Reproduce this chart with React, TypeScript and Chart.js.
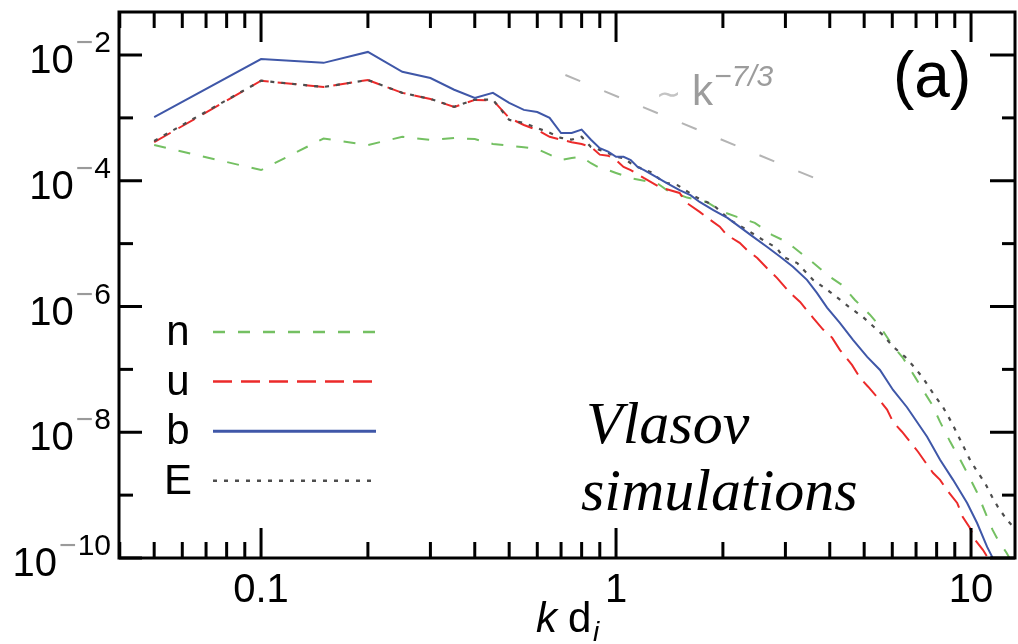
import React, { useEffect, useRef } from "react";
import { Chart, registerables } from "chart.js";

Chart.register(...registerables);

// ---- data (k d_i, spectral power) ----
const nK = [0.05, 0.1, 0.15, 0.2, 0.25, 0.3, 0.35, 0.4, 0.45, 0.5, 0.55, 0.6, 0.65, 0.7, 0.75, 0.8, 0.85, 0.9, 0.95, 1.0, 1.1, 1.2, 1.3, 1.39, 1.585, 1.8, 2.0, 2.19, 2.46, 2.75, 2.94, 3.15, 3.57, 4.01, 4.33, 4.71, 5.19, 5.54, 5.99, 6.43, 6.95, 7.32, 7.77, 8.18, 8.73, 9.32, 9.75, 10.4, 11.1, 11.5, 11.9, 12.6, 13.5];
const nVals = [3.7e-4, 1.48e-4, 4.7e-4, 3.7e-4, 5.0e-4, 4.45e-4, 4.8e-4, 4.6e-4, 3.85e-4, 3.6e-4, 3.4e-4, 3.2e-4, 2.6e-4, 2.15e-4, 2.3e-4, 2.4e-4, 1.9e-4, 1.6e-4, 1.48e-4, 1.33e-4, 1.1e-4, 1.0e-4, 9.3e-5, 7.1e-5, 5.4e-5, 4.6e-5, 3.2e-5, 2.66e-5, 2.14e-5, 1.38e-5, 1.15e-5, 8.9e-6, 5.1e-6, 2.95e-6, 2.2e-6, 1.27e-6, 7.4e-7, 4.8e-7, 2.47e-7, 1.52e-7, 7.6e-8, 4.7e-8, 2.74e-8, 1.46e-8, 7.1e-9, 3.66e-9, 2.27e-9, 1.1e-9, 4.5e-10, 2.8e-10, 1.95e-10, 1.2e-10, 6e-11];

const uK = [0.05, 0.1, 0.15, 0.2, 0.25, 0.3, 0.35, 0.4, 0.45, 0.5, 0.55, 0.6, 0.65, 0.7, 0.75, 0.8, 0.85, 0.9, 0.95, 1.0, 1.05, 1.1, 1.2, 1.33, 1.51, 1.585, 1.72, 1.84, 1.96, 2.05, 2.23, 2.34, 2.5, 2.66, 2.84, 3.09, 3.3, 3.59, 3.83, 4.06, 4.27, 4.62, 4.87, 5.13, 5.47, 5.8, 6.03, 6.39, 6.73, 7.09, 7.42, 7.81, 8.18, 8.55, 9.14, 9.48, 9.93, 10.26, 10.8, 11.1, 11.6];
const uVals = [4.1e-4, 3.9e-3, 3.1e-3, 4.0e-3, 2.5e-3, 2.0e-3, 1.49e-3, 1.93e-3, 1.9e-3, 1.0e-3, 7.7e-4, 6.4e-4, 5.0e-4, 4.5e-4, 4.1e-4, 3.85e-4, 3.45e-4, 2.6e-4, 2.5e-4, 2.14e-4, 1.66e-4, 1.48e-4, 1.1e-4, 7.9e-5, 6.4e-5, 4.4e-5, 3.2e-5, 2.4e-5, 1.86e-5, 1.38e-5, 1.03e-5, 7.9e-6, 5.9e-6, 4.1e-6, 2.85e-6, 1.65e-6, 1.18e-6, 6.6e-7, 4.3e-7, 3.2e-7, 2.04e-7, 1.18e-7, 7.3e-8, 5.3e-8, 3.5e-8, 2.29e-8, 1.46e-8, 1.02e-8, 7.1e-9, 4.9e-9, 3.4e-9, 2.27e-9, 1.75e-9, 1.21e-9, 7.5e-10, 4.5e-10, 3.0e-10, 1.95e-10, 1.35e-10, 1.05e-10, 5e-11];

const bK = [0.05, 0.1, 0.15, 0.2, 0.25, 0.3, 0.35, 0.4, 0.45, 0.5, 0.55, 0.6, 0.65, 0.7, 0.75, 0.8, 0.85, 0.9, 0.95, 1.0, 1.05, 1.1, 1.15, 1.2, 1.3, 1.39, 1.51, 1.62, 1.72, 1.88, 2.06, 2.23, 2.43, 2.66, 2.9, 3.15, 3.45, 3.68, 3.93, 4.27, 4.65, 5.1, 5.54, 6.03, 6.6, 7.52, 8.18, 8.9, 9.75, 10.4, 11.1, 11.46, 12.2];
const bVals = [1.03e-3, 8.6e-3, 7.5e-3, 1.12e-2, 5.4e-3, 4.3e-3, 2.8e-3, 2.07e-3, 2.5e-3, 1.73e-3, 1.34e-3, 1.24e-3, 1.0e-3, 5.75e-4, 5.75e-4, 6.5e-4, 4.5e-4, 3.3e-4, 2.9e-4, 2.4e-4, 2.4e-4, 2.14e-4, 1.66e-4, 1.48e-4, 1.14e-4, 9.2e-5, 7.1e-5, 5.9e-5, 4.6e-5, 3.4e-5, 2.57e-5, 1.85e-5, 1.29e-5, 8.9e-6, 6.2e-6, 4.3e-6, 2.65e-6, 1.65e-6, 9.6e-7, 5.5e-7, 2.95e-7, 1.58e-7, 9.8e-8, 4.7e-8, 2.5e-8, 8.5e-9, 3.66e-9, 1.75e-9, 7.5e-10, 3.6e-10, 1.5e-10, 1.05e-10, 4e-11];

const eK = [0.05, 0.1, 0.15, 0.2, 0.25, 0.3, 0.35, 0.4, 0.45, 0.5, 0.55, 0.6, 0.65, 0.7, 0.75, 0.8, 0.85, 0.9, 0.95, 1.0, 1.05, 1.1, 1.15, 1.25, 1.36, 1.49, 1.69, 1.88, 2.09, 2.38, 2.59, 2.84, 2.95, 3.24, 3.59, 4.01, 4.56, 4.96, 5.65, 6.03, 6.52, 6.95, 7.32, 7.77, 8.34, 8.83, 9.32, 9.93, 10.46, 10.94, 11.46, 11.9, 12.6, 13.1, 14];
const eVals = [4.3e-4, 3.9e-3, 3.1e-3, 4.0e-3, 2.5e-3, 2.0e-3, 1.5e-3, 1.95e-3, 1.95e-3, 9.3e-4, 8.3e-4, 6.9e-4, 5.8e-4, 4.8e-4, 4.5e-4, 5.0e-4, 3.45e-4, 3.1e-4, 2.75e-4, 2.4e-4, 2.3e-4, 1.9e-4, 1.66e-4, 1.38e-4, 9.5e-5, 8.5e-5, 5.4e-5, 4.1e-5, 2.4e-5, 1.55e-5, 1.15e-5, 8.5e-6, 6.2e-6, 4.9e-6, 2.65e-6, 1.7e-6, 9.6e-7, 6.8e-7, 3.5e-7, 2.3e-7, 1.58e-7, 1.06e-7, 7.3e-8, 4.4e-8, 2.5e-8, 1.41e-8, 7.6e-9, 3.66e-9, 2.27e-9, 1.58e-9, 9.4e-10, 6.5e-10, 4.1e-10, 3.2e-10, 2e-10];

// reference power law ~ k^-7/3
const refK = [0.72, 3.63];
const refVals = [4.8e-3, 1.1e-4];

const legendOrder = ["n", "u", "b", "E"];
const xTickValues = [0.1, 1, 10];
const xTickLabels = ["0.1", "1", "10"];
const yTickExponents = [-2, -4, -6, -8, -10];

const X_MIN = 0.0398;
const X_MAX = 13.3;
const Y_MIN = 1e-10;
const Y_MAX = 0.0483;

const SANS = '"Liberation Sans", Arial, Helvetica, sans-serif';
const SERIF = '"Liberation Serif", "Times New Roman", serif';

const toPoints = (ks: number[], vs: number[]) => ks.map((k, i) => ({ x: k, y: vs[i] }));

const overlayPlugin = {
  id: "overlay",
  afterDraw(chart: any) {
    const { ctx, chartArea: a, scales } = chart;
    const xs = scales.x;
    const ys = scales.y;
    ctx.save();
    ctx.setLineDash([]);
    ctx.strokeStyle = "#000";
    ctx.lineWidth = 3;
    ctx.lineCap = "butt";
    ctx.strokeRect(a.left, a.top, a.right - a.left, a.bottom - a.top);

    const seg = (x1: number, y1: number, x2: number, y2: number) => {
      ctx.beginPath();
      ctx.moveTo(x1, y1);
      ctx.lineTo(x2, y2);
      ctx.stroke();
    };

    // x ticks (top and bottom, inward)
    for (let e = -2; e <= 1; e++) {
      for (let m = 1; m <= 9; m++) {
        const v = m * Math.pow(10, e);
        if (v < X_MIN || v > X_MAX) continue;
        const px = xs.getPixelForValue(v);
        const len = m === 1 ? 30 : 16;
        seg(px, a.bottom, px, a.bottom - len);
        seg(px, a.top, px, a.top + len);
      }
    }
    // y ticks (left and right, inward)
    for (let e = -10; e <= -2; e++) {
      const py = ys.getPixelForValue(Math.pow(10, e));
      const major = e % 2 === 0;
      seg(a.left, py, a.left + (major ? 23 : 14), py);
      seg(a.right, py, a.right - (major ? 25 : 13), py);
    }

    // x tick labels
    ctx.fillStyle = "#000";
    ctx.font = `40px ${SANS}`;
    ctx.textAlign = "center";
    ctx.textBaseline = "alphabetic";
    xTickValues.forEach((v, i) => {
      ctx.fillText(xTickLabels[i], xs.getPixelForValue(v), a.bottom + 44);
    });

    // y tick labels 10^-n
    const right = a.left - 8;
    yTickExponents.forEach((e) => {
      const py = ys.getPixelForValue(Math.pow(10, e));
      const base = py + 18;
      const supBase = base - 21;
      const digits = String(-e);
      ctx.textAlign = "right";
      ctx.font = `30px ${SANS}`;
      ctx.fillStyle = "#000";
      ctx.fillText(digits, right, supBase);
      const dw = ctx.measureText(digits).width;
      ctx.fillStyle = "#9a9a9a";
      ctx.fillText("\u2212", right - dw - 1, supBase);
      const mw = ctx.measureText("\u2212").width;
      ctx.fillStyle = "#000";
      ctx.font = `40px ${SANS}`;
      ctx.fillText("10", right - dw - mw - 3, base);
    });

    // axis title: k d_i
    ctx.textAlign = "left";
    ctx.fillStyle = "#000";
    ctx.font = `italic 42px ${SANS}`;
    ctx.fillText("k", 536, 632);
    ctx.font = `42px ${SANS}`;
    ctx.fillText("d", 568, 632);
    ctx.font = `italic 28px ${SANS}`;
    ctx.fillText("i", 593, 641);

    // legend
    const byLabel: Record<string, any> = {};
    chart.data.datasets.forEach((d: any) => (byLabel[d.label] = d));
    legendOrder.forEach((lab, i) => {
      const d = byLabel[lab];
      const ly = 332 + i * 49.6;
      ctx.fillStyle = "#000";
      ctx.font = `42px ${SANS}`;
      ctx.textAlign = "center";
      ctx.fillText(lab, 178, ly + 13);
      ctx.strokeStyle = d.borderColor;
      ctx.lineWidth = lab === "b" ? 3 : 2.5;
      ctx.setLineDash(d.borderDash || []);
      seg(213, ly, 376, ly);
    });
    ctx.setLineDash([]);

    // Vlasov simulations
    ctx.fillStyle = "#000";
    ctx.textAlign = "left";
    ctx.font = `italic 60px ${SERIF}`;
    ctx.fillText("Vlasov", 586, 443);
    ctx.fillText("simulations", 581, 510);

    // panel label
    ctx.font = `64px ${SANS}`;
    ctx.fillText("(a)", 893, 97);

    // power-law label
    ctx.fillStyle = "#c4c4c4";
    ctx.font = `30px ${SANS}`;
    ctx.fillText("\u223C", 656, 104);
    ctx.fillStyle = "#9c9c9c";
    ctx.font = `42px ${SANS}`;
    ctx.fillText("k", 692, 105);
    ctx.font = `italic 30px ${SANS}`;
    ctx.fillText("\u22127/3", 714, 86);

    ctx.restore();
  },
};

export default function App() {
  const canvasRef = useRef<HTMLCanvasElement | null>(null);

  useEffect(() => {
    document.body.style.margin = "0";
    const canvas = canvasRef.current;
    if (!canvas) return;
    const chart = new Chart(canvas, {
      type: "line",
      data: {
        datasets: [
          { label: "b", data: toPoints(bK, bVals), borderColor: "#3f57a8", borderWidth: 2, borderDash: [] },
          { label: "E", data: toPoints(eK, eVals), borderColor: "#4d4d4d", borderWidth: 2.2, borderDash: [4, 7] },
          { label: "u", data: toPoints(uK, uVals), borderColor: "#ec2a2a", borderWidth: 2, borderDash: [19, 9] },
          { label: "n", data: toPoints(nK, nVals), borderColor: "#74c062", borderWidth: 2, borderDash: [12, 13] },
          { label: "ref", data: toPoints(refK, refVals), borderColor: "#b4b4b4", borderWidth: 2, borderDash: [16, 26] },
        ] as any,
      },
      options: {
        animation: false,
        responsive: false,
        maintainAspectRatio: false,
        devicePixelRatio: 1,
        layout: { padding: { left: 119, right: 3, top: 12, bottom: 86 } },
        plugins: { legend: { display: false }, tooltip: { enabled: false } },
        elements: { point: { radius: 0 }, line: { tension: 0, fill: false } },
        scales: {
          x: { type: "logarithmic", min: X_MIN, max: X_MAX, display: false },
          y: { type: "logarithmic", min: Y_MIN, max: Y_MAX, display: false },
        },
      } as any,
      plugins: [overlayPlugin],
    });
    return () => chart.destroy();
  }, []);

  return (
    <div style={{ width: 1018, height: 644, background: "#fff" }}>
      <canvas ref={canvasRef} width={1018} height={644} style={{ display: "block" }} />
    </div>
  );
}
